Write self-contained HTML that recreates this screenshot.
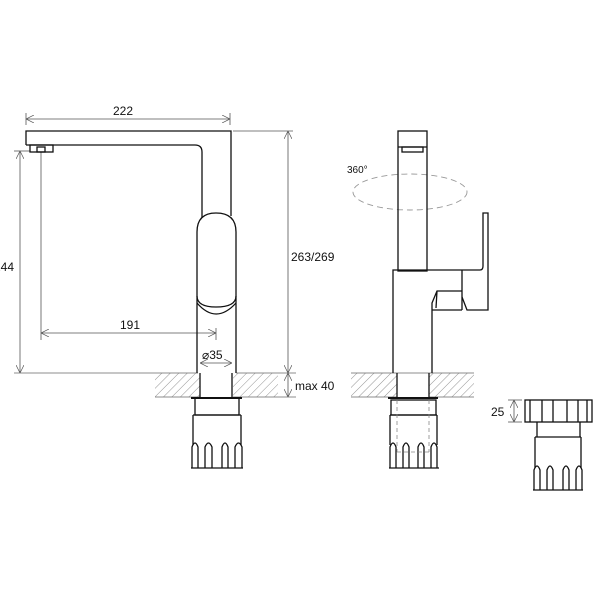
<!DOCTYPE html>
<html><head><meta charset="utf-8"><style>
html,body{margin:0;padding:0;background:#fff}
svg{display:block}
text{font-family:"Liberation Sans",Arial,sans-serif;fill:#111}
</style></head><body>
<svg width="600" height="600" viewBox="0 0 600 600" xmlns="http://www.w3.org/2000/svg">
<defs>
<pattern id="h" patternUnits="userSpaceOnUse" width="6" height="6" patternTransform="rotate(45)">
<line x1="0" y1="0" x2="0" y2="6" stroke="#777" stroke-width="0.8"/>
</pattern>
<marker id="a" markerWidth="8" markerHeight="8" refX="8" refY="4" orient="auto" markerUnits="userSpaceOnUse">
<path d="M0,0 L8,4 L0,8" fill="none" stroke="#555" stroke-width="0.7"/>
</marker>
<marker id="s" markerWidth="8" markerHeight="8" refX="0" refY="4" orient="auto" markerUnits="userSpaceOnUse">
<path d="M8,0 L0,4 L8,8" fill="none" stroke="#555" stroke-width="0.7"/>
</marker>
</defs>

<rect x="155" y="373" width="45" height="24" fill="url(#h)"/>
<rect x="233" y="373" width="45" height="24" fill="url(#h)"/>
<rect x="351" y="373" width="46" height="24" fill="url(#h)"/>
<rect x="429" y="373" width="45" height="24" fill="url(#h)"/>
<g stroke="#666" stroke-width="0.8" fill="none">
<line x1="155" y1="397" x2="200" y2="397"/><line x1="233" y1="397" x2="296" y2="397"/>
<line x1="351" y1="397" x2="397" y2="397"/><line x1="429" y1="397" x2="474" y2="397"/>
<line x1="14" y1="373" x2="198" y2="373"/><line x1="236" y1="373" x2="296" y2="373"/>
<line x1="351" y1="373" x2="474" y2="373"/>
</g>

<g stroke="#555" stroke-width="0.8" fill="none">
<line x1="26" y1="119" x2="230" y2="119" marker-start="url(#s)" marker-end="url(#a)"/>
<line x1="26" y1="113" x2="26" y2="125"/><line x1="230" y1="113" x2="230" y2="125"/>
<line x1="14" y1="151" x2="30" y2="151"/>
<line x1="20" y1="151" x2="20" y2="373" marker-start="url(#s)" marker-end="url(#a)"/>
<line x1="41" y1="152" x2="41" y2="340"/>
<line x1="216" y1="328" x2="216" y2="340"/>
<line x1="41" y1="333" x2="216" y2="333" marker-start="url(#s)" marker-end="url(#a)"/>
<line x1="200" y1="363" x2="232" y2="363" marker-start="url(#s)" marker-end="url(#a)"/>
<line x1="233" y1="131" x2="293" y2="131"/>
<line x1="288" y1="131" x2="288" y2="373" marker-start="url(#s)" marker-end="url(#a)"/>
<line x1="288" y1="373" x2="288" y2="397" marker-start="url(#s)" marker-end="url(#a)"/>
<line x1="508" y1="400" x2="522" y2="400"/><line x1="508" y1="422" x2="522" y2="422"/>
<line x1="514" y1="400" x2="514" y2="422" marker-start="url(#s)" marker-end="url(#a)"/>
</g>
<text x="113" y="115" font-size="12">222</text>
<text x="-6" y="271" font-size="12">244</text>
<text x="120" y="329" font-size="12">191</text>
<text x="202" y="359" font-size="12">⌀35</text>
<text x="291" y="261" font-size="12">263/269</text>
<text x="295" y="390" font-size="12">max 40</text>
<text x="347" y="173" font-size="10">360°</text>
<text x="491" y="416" font-size="12">25</text>

<g stroke="#111" stroke-width="1.3" fill="none">
<path d="M26,145 L26,131 L231,131 L231,216"/>
<path d="M26,145 L195,145 Q202,145 202,152 L202,218"/>
<rect x="30" y="145" width="23" height="7"/>
<rect x="37" y="147" width="8" height="5"/>
<path d="M197,232 Q197,213 216,213 Q236,213 236,232 L236,296 Q236,307 216,307 Q197,307 197,296 Z"/>
<path d="M197,303 Q216,325 236,303"/>
<line x1="197" y1="296" x2="197" y2="373"/>
<line x1="236" y1="296" x2="236" y2="373"/>
<line x1="200" y1="373" x2="200" y2="398"/><line x1="232" y1="373" x2="232" y2="398"/>
<line x1="191" y1="398" x2="242" y2="398" stroke-width="2"/>
<rect x="195" y="398" width="44" height="17"/>
<line x1="193" y1="415" x2="241" y2="415"/>
<line x1="193" y1="415" x2="193" y2="445"/><line x1="241" y1="415" x2="241" y2="445"/>
<line x1="191" y1="468" x2="243" y2="468"/>
<path d="M192,468 L192,447 Q195,439 198,447 L198,468"/>
<path d="M205,468 L205,447 Q208.5,439 212,447 L212,468"/>
<path d="M222,468 L222,447 Q225,439 228,447 L228,468"/>
<path d="M235,468 L235,447 Q238.5,439 242,447 L242,468"/>
</g>

<ellipse cx="410" cy="192" rx="57" ry="18" fill="none" stroke="#999" stroke-width="0.9" stroke-dasharray="6,4"/>
<g stroke="#111" stroke-width="1.3" fill="none">
<rect x="398" y="131" width="29" height="140"/>
<line x1="398" y1="147" x2="427" y2="147"/>
<rect x="402" y="147" width="21" height="5"/>
<path d="M393,373 L393,270 L480,270 Q483,270 483,266 L483,213 L488,213 L488,310 L467,310 L462,297"/>
<line x1="462" y1="270" x2="462" y2="310"/>
<path d="M432,373 L432,303 L437,291 L462,291 M432,310 L462,310 M437,291 L436,308"/>
<line x1="397" y1="373" x2="397" y2="398"/><line x1="429" y1="373" x2="429" y2="398"/>
<line x1="388" y1="398" x2="438" y2="398" stroke-width="2"/>
<rect x="391" y="400" width="45" height="15"/>
<line x1="390" y1="415" x2="437" y2="415"/>
<line x1="390" y1="415" x2="390" y2="445"/><line x1="437" y1="415" x2="437" y2="445"/>
<line x1="389" y1="468" x2="439" y2="468"/>
<path d="M390,468 L390,447 Q393,439 396,447 L396,468"/>
<path d="M403,468 L403,447 Q406,439 409,447 L409,468"/>
<path d="M418,468 L418,447 Q421,439 424,447 L424,468"/>
<path d="M431,468 L431,447 Q434,439 437,447 L437,468"/>
</g>
<g stroke="#888" stroke-width="0.8" fill="none" stroke-dasharray="4,3">
<line x1="397" y1="400" x2="397" y2="452"/><line x1="429" y1="400" x2="429" y2="452"/>
<line x1="397" y1="452" x2="429" y2="452"/>
</g>

<g stroke="#111" stroke-width="1.3" fill="none">
<rect x="525" y="400" width="67" height="22"/>
<line x1="530" y1="400" x2="530" y2="422"/><line x1="542" y1="400" x2="542" y2="422"/>
<line x1="553" y1="400" x2="553" y2="422"/><line x1="567" y1="400" x2="567" y2="422"/>
<line x1="578" y1="400" x2="578" y2="422"/><line x1="587" y1="400" x2="587" y2="422"/>
<line x1="537" y1="422" x2="537" y2="437"/><line x1="580" y1="422" x2="580" y2="437"/>
<line x1="535" y1="437" x2="581" y2="437"/>
<line x1="535" y1="437" x2="535" y2="468"/><line x1="581" y1="437" x2="581" y2="468"/>
<line x1="533" y1="490" x2="583" y2="490"/>
<path d="M534,490 L534,470 Q537,462 540,470 L540,490"/>
<path d="M547,490 L547,470 Q550,462 553,470 L553,490"/>
<path d="M563,490 L563,470 Q566,462 569,470 L569,490"/>
<path d="M576,490 L576,470 Q579,462 582,470 L582,490"/>
</g>
</svg>
</body></html>
